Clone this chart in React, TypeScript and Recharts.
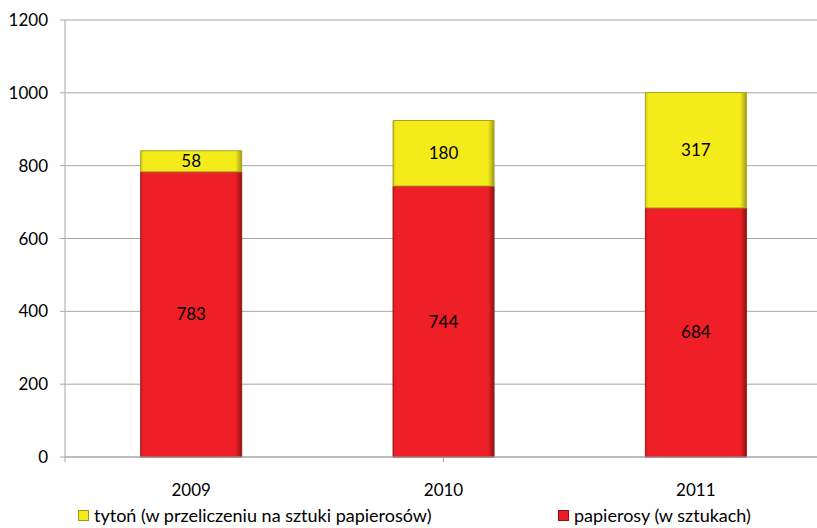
import React from "react";
import { BarChart, Bar, XAxis, YAxis, CartesianGrid, Legend, LabelList } from "recharts";

const years = ["2009", "2010", "2011"];
const papierosy = [783, 744, 684];
const tyton = [58, 180, 317];
const yTicks = [0, 200, 400, 600, 800, 1000, 1200];
const edgeTicks = [0, 1, 2, 3];

const data = years.map((y, i) => ({ year: y, papierosy: papierosy[i], tyton: tyton[i] }));

const FONT = "Lato, 'Open Sans', sans-serif";

const legendItems = [
  { label: "tytoń (w przeliczeniu na sztuki papierosów)", color: "#F2EA1A", border: "#9E9A1A" },
  { label: "papierosy (w sztukach)", color: "#ED1C24", border: "#8A1515" },
];

const renderLegend = () => (
  <div style={{ position: "relative", height: 26, fontFamily: FONT, fontSize: 18, color: "#000" }}>
    {legendItems.map((it, i) => (
      <div
        key={i}
        style={{
          position: "absolute",
          left: i === 0 ? 78 : 558,
          top: 0,
          display: "flex",
          alignItems: "center",
          height: 26,
          whiteSpace: "nowrap",
        }}
      >
        <span
          style={{
            display: "inline-block",
            width: 9,
            height: 9,
            background: it.color,
            border: `1px solid ${it.border}`,
            marginRight: 5,
          }}
        />
        <span>{it.label}</span>
      </div>
    ))}
  </div>
);

const EmptyTick = () => <g />;

export default function App() {
  return (
    <div style={{ position: "absolute", left: 0, top: 0, width: 817, height: 528, overflow: "hidden", background: "#fff" }}>
      <BarChart
        width={822}
        height={528}
        data={data}
        margin={{ top: 20, right: 0, left: 0, bottom: 0 }}
        barCategoryGap="30%"
      >
        <defs>
          <linearGradient id="gRed" x1="0" y1="0" x2="1" y2="0">
            <stop offset="0%" stopColor="#D41A20" />
            <stop offset="3%" stopColor="#EE1F26" />
            <stop offset="94%" stopColor="#EE1F26" />
            <stop offset="100%" stopColor="#8E1414" />
          </linearGradient>
          <linearGradient id="gYel" x1="0" y1="0" x2="1" y2="0">
            <stop offset="0%" stopColor="#D2CC18" />
            <stop offset="3%" stopColor="#F3EB1A" />
            <stop offset="94%" stopColor="#F3EB1A" />
            <stop offset="100%" stopColor="#A29C1C" />
          </linearGradient>
        </defs>
        <CartesianGrid vertical={false} stroke="#A6A6A6" xAxisId="b" yAxisId="val" />
        <XAxis
          xAxisId="a"
          type="number"
          domain={[0, 3]}
          ticks={edgeTicks}
          tick={EmptyTick}
          axisLine={{ stroke: "#A6A6A6" }}
          tickLine={{ stroke: "#A6A6A6" }}
          tickSize={5}
          height={5}
          allowDataOverflow
        />
        <XAxis
          xAxisId="b"
          dataKey="year"
          axisLine={false}
          tickLine={false}
          tickSize={0}
          tickMargin={22}
          height={40}
          tick={{ fill: "#000", fontSize: 17, fontFamily: FONT }}
        />
        <YAxis
          yAxisId="val"
          domain={[0, 1200]}
          ticks={yTicks}
          width={65}
          axisLine={{ stroke: "#A6A6A6" }}
          tickLine={{ stroke: "#A6A6A6" }}
          tickSize={5}
          tickMargin={12}
          tick={{ fill: "#000", fontSize: 17, fontFamily: FONT }}
        />
        <Legend verticalAlign="bottom" content={renderLegend} wrapperStyle={{ left: 0, width: 817 }} />
        <Bar xAxisId="b" yAxisId="val" dataKey="papierosy" stackId="a" fill="url(#gRed)" stroke="#9A1818" strokeWidth={1} isAnimationActive={false}>
          <LabelList dataKey="papierosy" position="center" fill="#000" fontSize={17} fontFamily={FONT} />
        </Bar>
        <Bar xAxisId="b" yAxisId="val" dataKey="tyton" stackId="a" fill="url(#gYel)" stroke="#A8A21E" strokeWidth={1} isAnimationActive={false}>
          <LabelList dataKey="tyton" position="center" fill="#000" fontSize={17} fontFamily={FONT} />
        </Bar>
      </BarChart>
    </div>
  );
}
